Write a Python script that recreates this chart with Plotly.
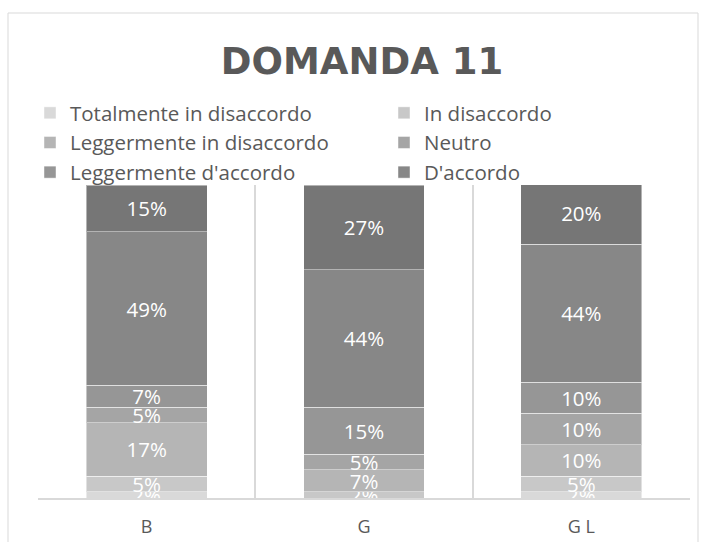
import plotly.graph_objects as go

categories = ["B", "G", "G L"]
series_names = [
    "Totalmente in disaccordo",
    "In disaccordo",
    "Leggermente in disaccordo",
    "Neutro",
    "Leggermente d'accordo",
    "D'accordo",
    "Totalmente d'accordo",
]
totalmente_in_disaccordo = [2, 0, 2]
in_disaccordo = [5, 2, 5]
leggermente_in_disaccordo = [17, 7, 10]
neutro = [5, 5, 10]
leggermente_d_accordo = [7, 15, 10]
d_accordo = [49, 44, 44]
totalmente_d_accordo = [15, 27, 20]

values = [
    totalmente_in_disaccordo,
    in_disaccordo,
    leggermente_in_disaccordo,
    neutro,
    leggermente_d_accordo,
    d_accordo,
    totalmente_d_accordo,
]
colors = ["#d9d9d9", "#c8c8c8", "#b5b5b5", "#a5a5a5", "#969696", "#878787", "#767676"]
legend_ids = ["legend", "legend2", "legend", "legend2", "legend", "legend2", None]

W, H = 708, 542
L, R, T, B = 38, 18, 185, 44

fig = go.Figure()
for name, vals, col, lg in zip(series_names, values, colors, legend_ids):
    fig.add_trace(go.Bar(
        x=categories, y=vals, name=name,
        marker=dict(color=col, line=dict(color="rgba(255,255,255,0.45)", width=1)),
        texttemplate="%{y}%", textposition="inside", insidetextanchor="middle",
        constraintext="none",
        textfont=dict(color="white", size=20.5, family="Open Sans"),
        legend=lg if lg else "legend", showlegend=lg is not None,
        legendgroup=name, hoverinfo="skip",
    ))

pw = W - L - R
ph = H - T - B
def px(x):
    return (x - L) / pw
def py(y):
    return (H - B - y) / ph

fig.update_layout(
    width=W, height=H,
    margin=dict(l=L, r=R, t=T, b=B, autoexpand=False),
    paper_bgcolor="white", plot_bgcolor="white",
    barmode="stack", bargap=0.444,
    font=dict(family="Open Sans", color="#595959"),
    title=dict(text="<b>DOMANDA 11</b>", x=362 / W, xanchor="center", xref="container",
               y=1 - 61 / H, yanchor="middle", yref="container",
               font=dict(family="DejaVu Sans", size=37, color="#595959")),
    xaxis=dict(type="category", tickson="boundaries", showgrid=True, gridcolor="#d9d9d9",
               gridwidth=1.5, showline=True, linecolor="#d9d9d9", linewidth=1.5,
               ticks="", tickfont=dict(size=18, color="#595959"), ticklabelstandoff=12),
    yaxis=dict(range=[0, 100], showgrid=False, showticklabels=False, zeroline=False,
               showline=False),
    legend=dict(orientation="v", xref="container", yref="container", x=30 / W, xanchor="left",
                y=1 - 93 / H, yanchor="top", font=dict(size=20.5, color="#595959"),
                bgcolor="rgba(0,0,0,0)", tracegroupgap=0.5, traceorder="normal"),
    legend2=dict(orientation="v", xref="container", yref="container", x=384 / W, xanchor="left",
                 y=1 - 93 / H, yanchor="top", font=dict(size=20.5, color="#595959"),
                 bgcolor="rgba(0,0,0,0)", tracegroupgap=0.5, traceorder="normal"),
    shapes=[dict(type="rect", xref="paper", yref="paper", x0=px(8), x1=px(698), y0=py(570),
                 y1=py(13), line=dict(color="#d9d9d9", width=1), layer="below")],
)

fig.write_html("out.html", config={"displayModeBar": False},
               post_script="document.body.style.margin='0';")
